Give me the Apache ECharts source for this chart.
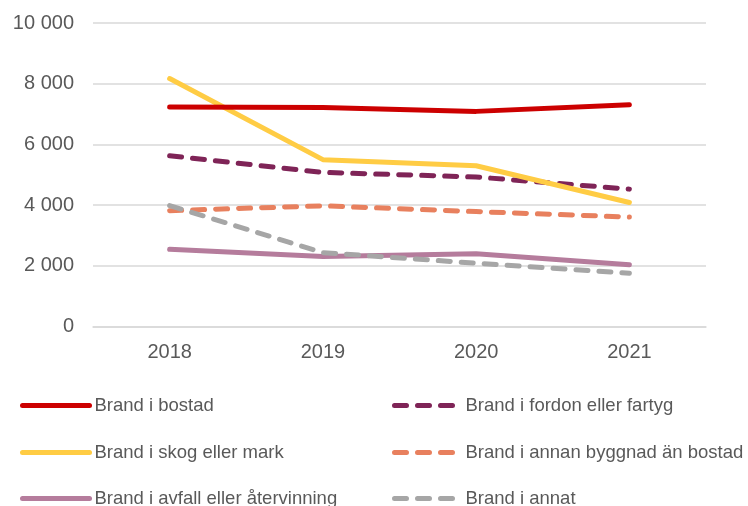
<!DOCTYPE html>
<html>
<head>
<meta charset="utf-8">
<script src="https://cdn.jsdelivr.net/npm/echarts@6/dist/echarts.min.js"></script>
<style>
html,body{margin:0;padding:0;background:#fff;}
#chart{width:748px;height:506px;}
</style>
</head>
<body>
<div id="chart"></div>
<script>
var categories = ['2018', '2019', '2020', '2021'];
var bostad = [7230, 7220, 7090, 7310];
var skog = [8170, 5500, 5300, 4090];
var fordon = [5630, 5080, 4930, 4530];
var annanByggnad = [3820, 3980, 3790, 3610];
var annat = [3990, 2440, 2090, 1760];
var avfall = [2550, 2310, 2400, 2040];
var yTicks = [0, 2000, 4000, 6000, 8000, 10000];

var names = ['Brand i bostad', 'Brand i fordon eller fartyg', 'Brand i skog eller mark',
  'Brand i annan byggnad än bostad', 'Brand i avfall eller återvinning', 'Brand i annat'];

var chart = echarts.init(document.getElementById('chart'));
var txt = '#595959';
var font = 'Liberation Sans, Arial, sans-serif';
var dash = [12, 11];

function mk(name, data, color, dashed, z) {
  return {
    name: name, type: 'line', data: data, symbol: 'none', z: z,
    lineStyle: { color: color, width: 5, type: dashed ? dash : 'solid', cap: 'round', join: 'round' },
    itemStyle: { color: color },
    emphasis: { disabled: true }
  };
}

function lg(name, left, top, w, dashed, gap) {
  return {
    data: [name], left: left, top: top, padding: 0,
    itemWidth: w, itemHeight: 14, selectedMode: false,
    itemStyle: { opacity: 0 },
    lineStyle: { width: 5, type: dashed ? dash : 'solid', cap: 'round' },
    textStyle: { color: txt, fontSize: 18.5, fontFamily: font, padding: [0, 0, 0, gap] }
  };
}

chart.setOption({
  animation: false,
  grid: { left: 93, right: 42, top: 23, bottom: 179.3, containLabel: false },
  legend: [
    lg(names[0], 20, 396, 67, false, 0),
    lg(names[1], 392, 396, 61, true, 5),
    lg(names[2], 20, 443, 67, false, 0),
    lg(names[3], 392, 443, 61, true, 5),
    lg(names[4], 20, 489, 67, false, 0),
    lg(names[5], 392, 489, 61, true, 5)
  ],
  xAxis: {
    type: 'category', data: categories, boundaryGap: true,
    axisLine: { show: true, lineStyle: { color: '#D9D9D9', width: 1.5 } },
    axisTick: { show: false },
    axisLabel: { color: txt, fontSize: 20, fontFamily: font, margin: 16 }
  },
  yAxis: {
    type: 'value', min: yTicks[0], max: yTicks[yTicks.length - 1], interval: 2000,
    axisLine: { show: false }, axisTick: { show: false },
    splitLine: { lineStyle: { color: '#D9D9D9', width: 1.5 } },
    axisLabel: {
      color: txt, fontSize: 20, fontFamily: font, margin: 19,
      formatter: function (v) { return String(v).replace(/\B(?=(\d{3})+(?!\d))/g, ' '); }
    }
  },
  series: [
    mk(names[0], bostad, '#CC0000', false, 6),
    mk(names[1], fordon, '#7F2457', true, 3),
    mk(names[2], skog, '#FFCC44', false, 5),
    mk(names[3], annanByggnad, '#E8805E', true, 2),
    mk(names[4], avfall, '#B57C9C', false, 4),
    mk(names[5], annat, '#A6A6A6', true, 7)
  ]
});
</script>
</body>
</html>
